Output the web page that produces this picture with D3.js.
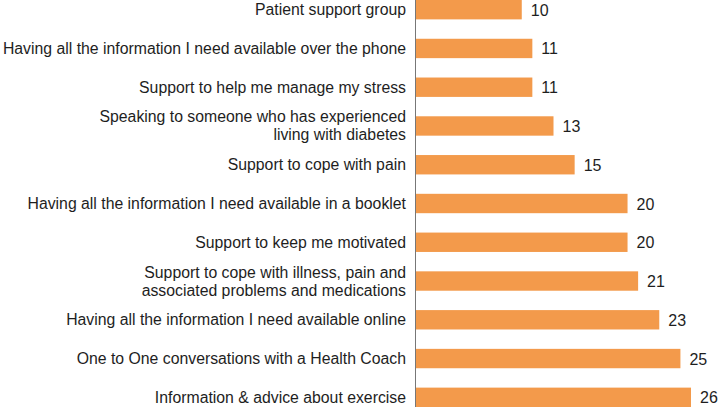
<!DOCTYPE html>
<html>
<head>
<meta charset="utf-8">
<script src="https://cdn.jsdelivr.net/npm/d3@7"></script>
<style>
  body { margin: 0; background: #fff; }
  text { font-family: "Liberation Sans", Arial, Helvetica, sans-serif; fill: #1e1e1e; }
</style>
</head>
<body>
<div id="plot_area"></div>
<script>
const categories = [
  ['Patient support group'],
  ['Having all the information I need available over the phone'],
  ['Support to help me manage my stress'],
  ['Speaking to someone who has experienced', 'living with diabetes'],
  ['Support to cope with pain'],
  ['Having all the information I need available in a booklet'],
  ['Support to keep me motivated'],
  ['Support to cope with illness, pain and', 'associated problems and medications'],
  ['Having all the information I need available online'],
  ['One to One conversations with a Health Coach'],
  ['Information & advice about exercise']
]
const values = [10, 11, 11, 13, 15, 20, 20, 21, 23, 25, 26]

const margin = { top: 0, right: 0, bottom: 0, left: 415 },
   svgWidth = 718,
   svgHeight = 407,
   chartWidth = svgWidth - margin.left - margin.right,
   chartHeight = svgHeight - margin.top - margin.bottom

const svg = d3.select('#plot_area').append('svg')
    .attr('width', svgWidth)
    .attr('height', svgHeight)

let chartGroup = svg.append('g')
    .attr('transform', `translate(${margin.left}, ${margin.top})`)

const keys = categories.map((c, i) => i)

let yBand = d3.scaleBand()
    .domain(keys)
    .range([0, chartHeight])
    .paddingInner(0.5)
    .paddingOuter(0)

let xLinear = d3.scaleLinear()
    .domain([0, 26])
    .range([1, 276])

// bars
chartGroup.append('g')
    .selectAll('rect')
    .data(values)
    .enter()
    .append('rect')
    .attr('x', xLinear(0))
    .attr('y', (d, i) => yBand(i))
    .attr('width', d => xLinear(d) - xLinear(0))
    .attr('height', yBand.bandwidth())
    .attr('fill', '#f39a4b')

// value labels
chartGroup.append('g')
    .selectAll('text')
    .data(values)
    .enter()
    .append('text')
    .attr('x', d => xLinear(d) + 9)
    .attr('y', (d, i) => yBand(i) + yBand.bandwidth() / 2 + 6)
    .attr('font-size', 16)
    .text(d => d)

// category labels
let labelGroup = chartGroup.append('g')
categories.forEach((lines, i) => {
    let cy = yBand(i) + yBand.bandwidth() / 2
    let t = labelGroup.append('text')
        .attr('text-anchor', 'end')
        .attr('font-size', 15.8)
        .attr('x', -9)
        .attr('y', cy + 5.5 - (lines.length - 1) * 9)
    lines.forEach((line, j) => {
        t.append('tspan')
            .attr('x', -9)
            .attr('dy', j === 0 ? 0 : 18)
            .text(line)
    })
})

// axis line
chartGroup.append('line')
    .attr('x1', 0.5).attr('x2', 0.5)
    .attr('y1', 0).attr('y2', chartHeight)
    .attr('stroke', '#777')
    .attr('stroke-width', 1)
</script>
</body>
</html>
